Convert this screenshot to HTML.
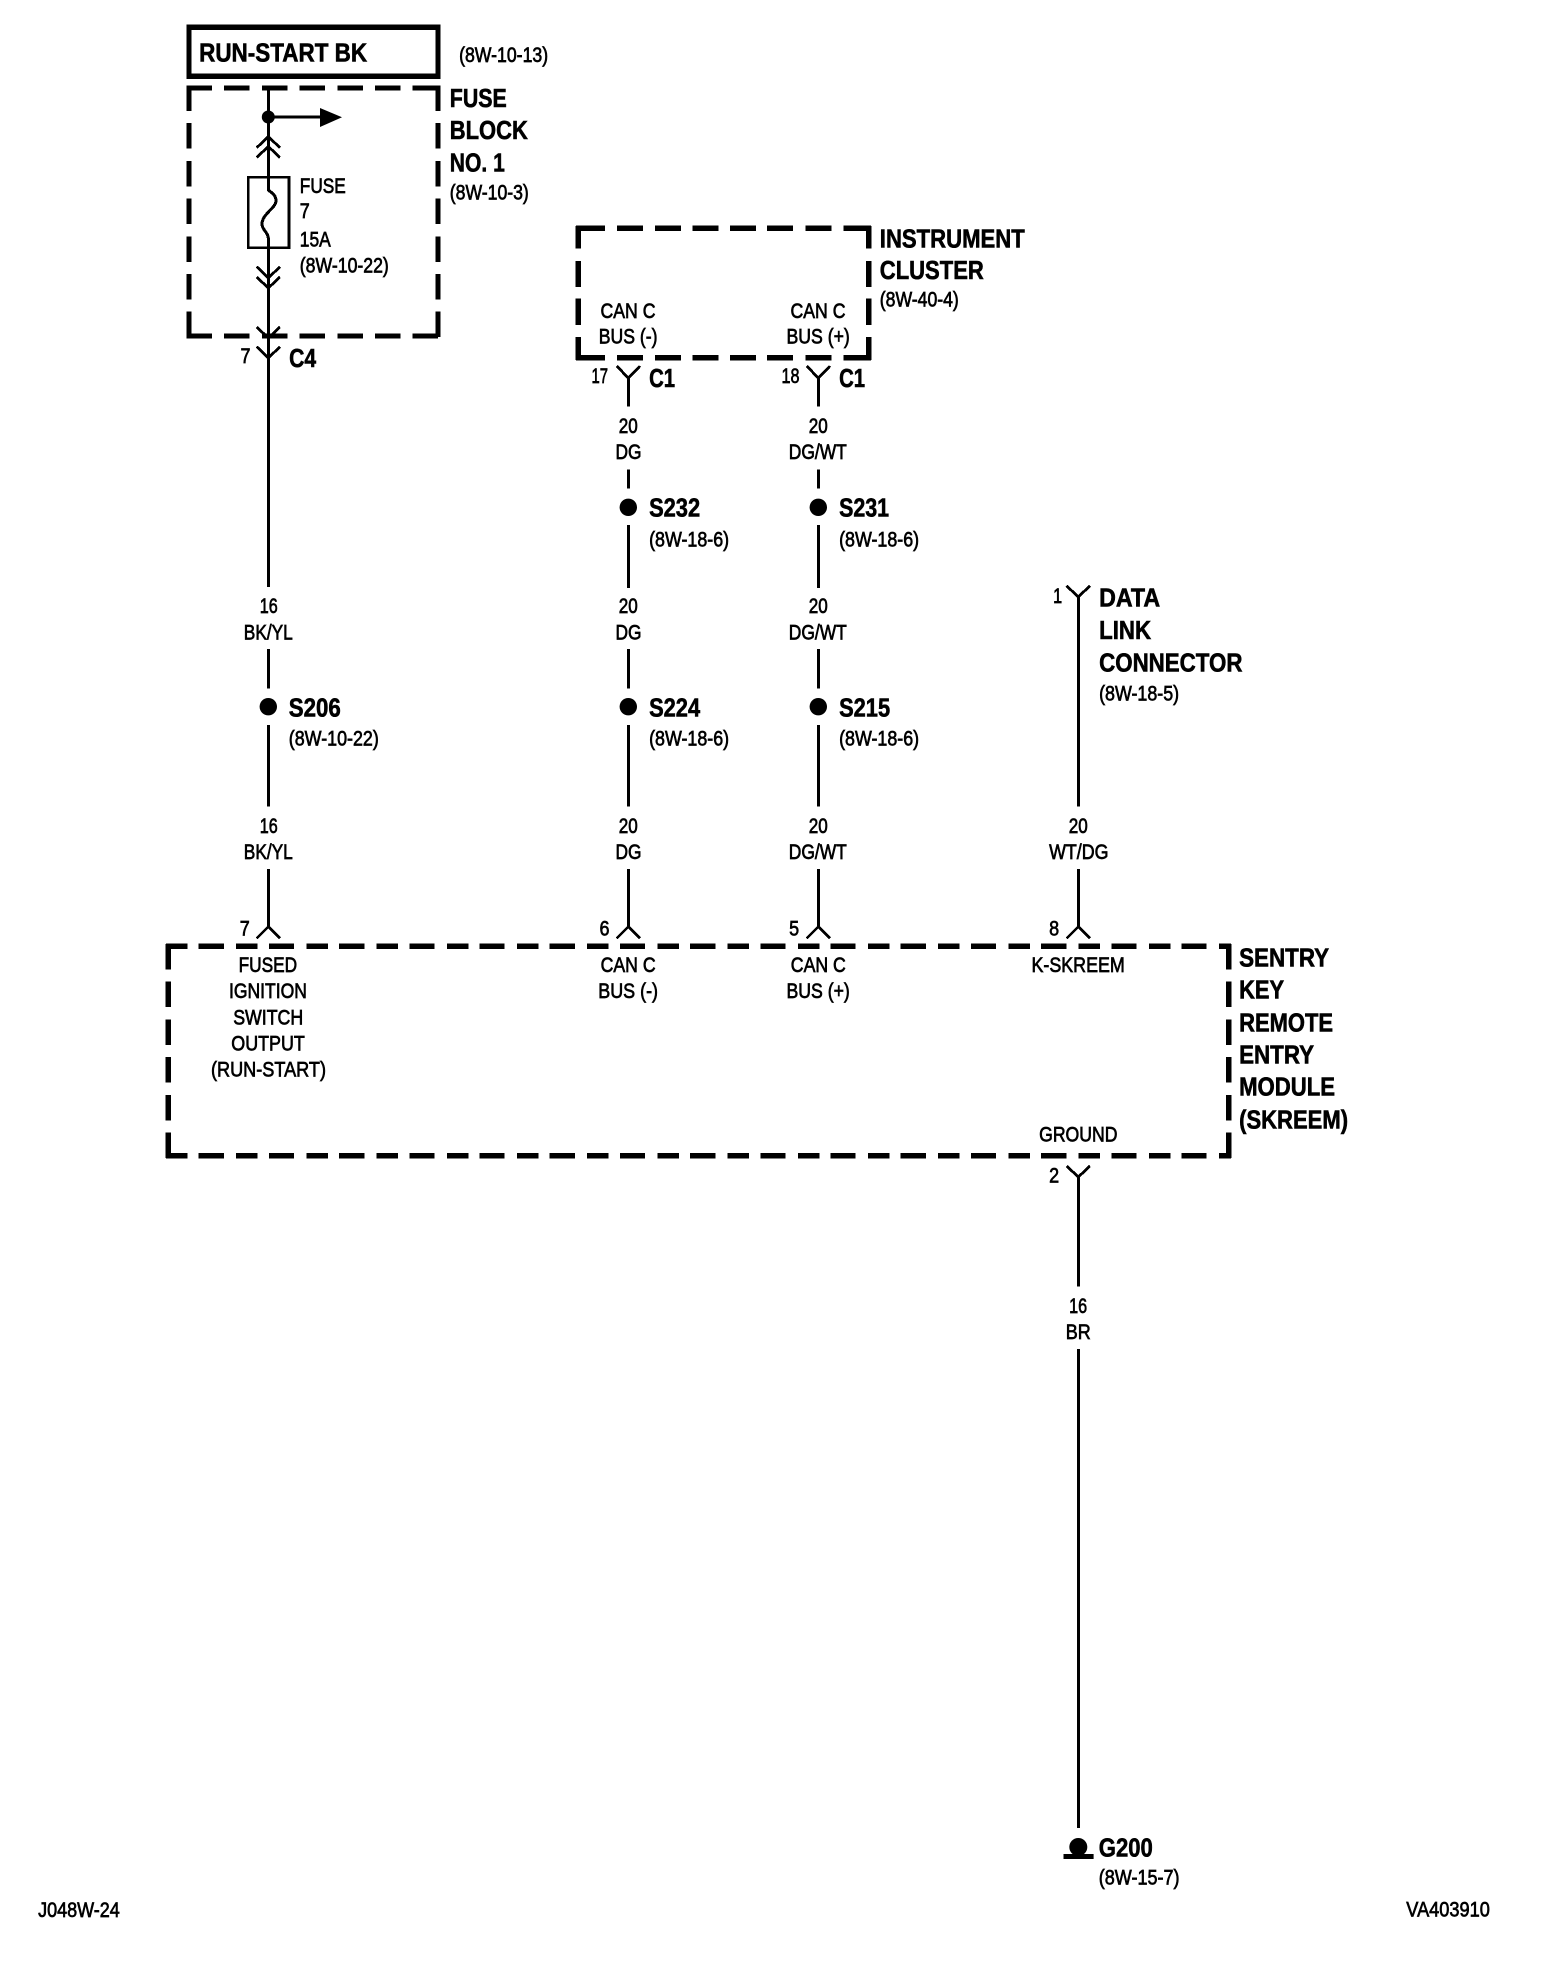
<!DOCTYPE html>
<html><head><meta charset="utf-8"><title>Wiring diagram</title>
<style>
html,body{margin:0;padding:0;background:#fff}
svg{display:block}
text{font-family:"Liberation Sans",Arial,sans-serif;fill:#000;transform:translate(-.2px,-.4px)}
.b{font-size:26px;font-weight:bold;stroke:#000;stroke-width:.6px}
.r{font-size:21px;stroke:#000;stroke-width:.7px}
.w{stroke:#000;stroke-width:3;fill:none;shape-rendering:crispEdges}
.c{stroke:#000;stroke-width:2.8;fill:none;shape-rendering:crispEdges}
.d{stroke:#000;stroke-width:5.2;fill:none;shape-rendering:crispEdges}
</style></head><body>
<svg xmlns="http://www.w3.org/2000/svg" width="1568" height="1982" viewBox="0 0 1568 1982">
<rect width="1568" height="1982" fill="#fff"/>

<!-- top box -->
<rect x="189" y="27.3" width="249" height="49" fill="none" stroke="#000" stroke-width="5.2" shape-rendering="crispEdges"/>
<text class="b" x="199.3" y="61.7" textLength="168" lengthAdjust="spacingAndGlyphs">RUN-START BK</text>
<text class="r" x="459.3" y="62.5" textLength="89" lengthAdjust="spacingAndGlyphs">(8W-10-13)</text>

<!-- fuse block dashed -->
<path class="d" stroke-dasharray="25.5 12.2" d="M186.5 88H440.5"/>
<path class="d" stroke-dasharray="25.5 12.2" d="M186.5 336H440.5"/>
<path class="d" stroke-dasharray="25.5 12.2" d="M189 85.5V338.5"/>
<path class="d" stroke-dasharray="25.5 12.2" d="M438 85.5V338.5"/>
<!-- fuse internals -->
<path class="w" d="M268.3 88V177M268.3 247V587"/>
<path class="w" d="M268.3 117H322"/>
<circle cx="268.3" cy="117" r="6.5"/>
<polygon points="320,108 342,117.3 320,127"/>
<path class="c" d="M256.7 147.7L268.3 136.7L280 147.7M256.7 157.5L268.3 146.5L280 157.5"/>
<rect x="248.3" y="177.3" width="40.7" height="70.4" fill="none" stroke="#000" stroke-width="2.8" shape-rendering="crispEdges"/>
<path class="w" d="M268.3 177V190C272 193 276 195 276 201C276 208 262 214 262 224C262 230 268 232 268.3 238V247"/>
<path class="c" d="M256.7 266.7L268.3 278L280 266.7M256.7 277L268.3 288L280 277"/>
<path class="c" d="M256.7 327L268.3 338L280 327"/>
<path class="c" d="M256.7 346.7L268.3 358L280 346.7"/>
<text class="b" x="450" y="107.3" textLength="57" lengthAdjust="spacingAndGlyphs">FUSE</text>
<text class="b" x="450" y="139.3" textLength="78" lengthAdjust="spacingAndGlyphs">BLOCK</text>
<text class="b" x="450" y="172" textLength="55" lengthAdjust="spacingAndGlyphs">NO. 1</text>
<text class="r" x="450" y="200" textLength="79" lengthAdjust="spacingAndGlyphs">(8W-10-3)</text>
<text class="r" x="300" y="193.3" textLength="46" lengthAdjust="spacingAndGlyphs">FUSE</text>
<text class="r" x="300" y="218.3" textLength="10" lengthAdjust="spacingAndGlyphs">7</text>
<text class="r" x="300" y="246.7" textLength="31" lengthAdjust="spacingAndGlyphs">15A</text>
<text class="r" x="300" y="272.7" textLength="89" lengthAdjust="spacingAndGlyphs">(8W-10-22)</text>
<text class="r" x="240.7" y="363.3" textLength="10" lengthAdjust="spacingAndGlyphs">7</text>
<text class="b" x="289.3" y="367.3" textLength="27" lengthAdjust="spacingAndGlyphs">C4</text>

<!-- instrument cluster -->
<path class="d" stroke-dasharray="29 12 26 12 26 11.5 26 11.5 26 11 26 12.5 26 12 28" d="M576 228.3H871"/>
<path class="d" stroke-dasharray="29 12 26 12 26 11.5 26 11.5 26 11 26 12.5 26 12 28" d="M576 357.7H871"/>
<path class="d" stroke-dasharray="22.5 12.3 26 11.7 26.7 11.7 23.3" d="M578.3 226V360"/>
<path class="d" stroke-dasharray="22.5 12.3 26 11.7 26.7 11.7 23.3" d="M868.7 226V360"/>
<text class="b" x="880" y="247.7" textLength="145" lengthAdjust="spacingAndGlyphs">INSTRUMENT</text>
<text class="b" x="880" y="279.3" textLength="104" lengthAdjust="spacingAndGlyphs">CLUSTER</text>
<text class="r" x="880" y="307" textLength="79" lengthAdjust="spacingAndGlyphs">(8W-40-4)</text>
<text class="r" x="600.7" y="318.3" textLength="55" lengthAdjust="spacingAndGlyphs">CAN C</text>
<text class="r" x="599" y="344" textLength="58.7" lengthAdjust="spacingAndGlyphs">BUS (-)</text>
<text class="r" x="790.7" y="318.3" textLength="55" lengthAdjust="spacingAndGlyphs">CAN C</text>
<text class="r" x="786.7" y="344" textLength="63.3" lengthAdjust="spacingAndGlyphs">BUS (+)</text>
<text class="r" x="591.7" y="383.3" textLength="16.5" lengthAdjust="spacingAndGlyphs">17</text>
<text class="r" x="781.7" y="383.3" textLength="18" lengthAdjust="spacingAndGlyphs">18</text>
<text class="b" x="649.3" y="387.3" textLength="26" lengthAdjust="spacingAndGlyphs">C1</text>
<text class="b" x="839.3" y="387.3" textLength="26" lengthAdjust="spacingAndGlyphs">C1</text>
<path class="c" d="M616.7 366L628.3 378L640 366M806.7 366L818.3 378L830 366"/>
<path class="w" d="M628.3 377V406.7M818.3 377V406.7"/>

<!-- column wires -->
<path class="w" d="M628.3 469.3V488.3M818.3 469.3V488.3"/>
<circle cx="628.3" cy="507.3" r="8.7"/><circle cx="818.3" cy="507.3" r="8.7"/>
<path class="w" d="M628.3 525V588M818.3 525V588"/>
<path class="w" d="M268.3 649V688.3M628.3 649V688.3M818.3 649V688.3"/>
<circle cx="268.3" cy="706.7" r="8.7"/><circle cx="628.3" cy="706.7" r="8.7"/><circle cx="818.3" cy="706.7" r="8.7"/>
<path class="w" d="M268.3 725V806.7M628.3 725V806.7M818.3 725V806.7"/>
<path class="w" d="M268.3 869V927M628.3 869V927M818.3 869V927M1078.3 869V927"/>
<path class="w" d="M1078.3 596V806.7"/>
<path class="c" d="M1066.5 585.7L1078.3 597L1090 585.7"/>
<path class="c" d="M256.7 938.3L268.3 926.7L280 938.3M616.7 938.3L628.3 926.7L640 938.3M806.7 938.3L818.3 926.7L830 938.3M1066.7 938.3L1078.3 926.7L1090 938.3"/>

<text class="r" x="619" y="433.3" textLength="19" lengthAdjust="spacingAndGlyphs">20</text>
<text class="r" x="615.7" y="459.3" textLength="26" lengthAdjust="spacingAndGlyphs">DG</text>
<text class="r" x="809" y="433.3" textLength="19" lengthAdjust="spacingAndGlyphs">20</text>
<text class="r" x="789" y="459.3" textLength="58" lengthAdjust="spacingAndGlyphs">DG/WT</text>
<text class="b" x="649.3" y="516.7" textLength="51" lengthAdjust="spacingAndGlyphs">S232</text>
<text class="b" x="839.3" y="516.7" textLength="50" lengthAdjust="spacingAndGlyphs">S231</text>
<text class="r" x="649.3" y="546.7" textLength="80" lengthAdjust="spacingAndGlyphs">(8W-18-6)</text>
<text class="r" x="839.3" y="546.7" textLength="80" lengthAdjust="spacingAndGlyphs">(8W-18-6)</text>

<text class="r" x="260" y="613.3" textLength="18" lengthAdjust="spacingAndGlyphs">16</text>
<text class="r" x="244" y="640" textLength="49" lengthAdjust="spacingAndGlyphs">BK/YL</text>
<text class="r" x="619" y="613.3" textLength="19" lengthAdjust="spacingAndGlyphs">20</text>
<text class="r" x="615.7" y="640" textLength="26" lengthAdjust="spacingAndGlyphs">DG</text>
<text class="r" x="809" y="613.3" textLength="19" lengthAdjust="spacingAndGlyphs">20</text>
<text class="r" x="789" y="640" textLength="58" lengthAdjust="spacingAndGlyphs">DG/WT</text>

<text class="b" x="289" y="716.7" textLength="52" lengthAdjust="spacingAndGlyphs">S206</text>
<text class="b" x="649.3" y="716.7" textLength="51" lengthAdjust="spacingAndGlyphs">S224</text>
<text class="b" x="839.3" y="716.7" textLength="51" lengthAdjust="spacingAndGlyphs">S215</text>
<text class="r" x="289" y="746" textLength="90" lengthAdjust="spacingAndGlyphs">(8W-10-22)</text>
<text class="r" x="649.3" y="746" textLength="80" lengthAdjust="spacingAndGlyphs">(8W-18-6)</text>
<text class="r" x="839.3" y="746" textLength="80" lengthAdjust="spacingAndGlyphs">(8W-18-6)</text>

<text class="r" x="260" y="833.3" textLength="18" lengthAdjust="spacingAndGlyphs">16</text>
<text class="r" x="244" y="859.3" textLength="49" lengthAdjust="spacingAndGlyphs">BK/YL</text>
<text class="r" x="619" y="833.3" textLength="19" lengthAdjust="spacingAndGlyphs">20</text>
<text class="r" x="615.7" y="859.3" textLength="26" lengthAdjust="spacingAndGlyphs">DG</text>
<text class="r" x="809" y="833.3" textLength="19" lengthAdjust="spacingAndGlyphs">20</text>
<text class="r" x="789" y="859.3" textLength="58" lengthAdjust="spacingAndGlyphs">DG/WT</text>
<text class="r" x="1069" y="833.3" textLength="19" lengthAdjust="spacingAndGlyphs">20</text>
<text class="r" x="1049.3" y="859.3" textLength="59.4" lengthAdjust="spacingAndGlyphs">WT/DG</text>

<!-- DLC -->
<text class="r" x="1053.3" y="603.3" textLength="9" lengthAdjust="spacingAndGlyphs">1</text>
<text class="b" x="1099.3" y="606.7" textLength="61" lengthAdjust="spacingAndGlyphs">DATA</text>
<text class="b" x="1099.3" y="639.3" textLength="52" lengthAdjust="spacingAndGlyphs">LINK</text>
<text class="b" x="1099.3" y="671.7" textLength="143.4" lengthAdjust="spacingAndGlyphs">CONNECTOR</text>
<text class="r" x="1099.3" y="701" textLength="80" lengthAdjust="spacingAndGlyphs">(8W-18-5)</text>

<!-- SKREEM -->
<path class="d" stroke-dasharray="21.5 11.2 25.2 12.3" d="M166 946.3H1231"/>
<path class="d" stroke-dasharray="21.5 11.2 25.2 12.3" d="M166 1155.7H1231"/>
<path class="d" stroke-dasharray="25.5 12.2" d="M168.3 944V1158"/>
<path class="d" stroke-dasharray="25.5 12.2" d="M1228.7 944V1158"/>

<text class="r" x="240" y="936" textLength="10" lengthAdjust="spacingAndGlyphs">7</text>
<text class="r" x="599.7" y="936" textLength="10" lengthAdjust="spacingAndGlyphs">6</text>
<text class="r" x="789.3" y="936" textLength="10" lengthAdjust="spacingAndGlyphs">5</text>
<text class="r" x="1049.3" y="936" textLength="10" lengthAdjust="spacingAndGlyphs">8</text>
<text class="r" x="238.8" y="972.3" textLength="58.5" lengthAdjust="spacingAndGlyphs">FUSED</text>
<text class="r" x="229.2" y="998.3" textLength="78" lengthAdjust="spacingAndGlyphs">IGNITION</text>
<text class="r" x="233.4" y="1025" textLength="70" lengthAdjust="spacingAndGlyphs">SWITCH</text>
<text class="r" x="231.5" y="1050.7" textLength="73.5" lengthAdjust="spacingAndGlyphs">OUTPUT</text>
<text class="r" x="211.2" y="1076.7" textLength="115" lengthAdjust="spacingAndGlyphs">(RUN-START)</text>
<text class="r" x="600.8" y="972.3" textLength="55" lengthAdjust="spacingAndGlyphs">CAN C</text>
<text class="r" x="598.5" y="998.3" textLength="59.7" lengthAdjust="spacingAndGlyphs">BUS (-)</text>
<text class="r" x="791" y="972.3" textLength="55" lengthAdjust="spacingAndGlyphs">CAN C</text>
<text class="r" x="786.7" y="998.3" textLength="63.3" lengthAdjust="spacingAndGlyphs">BUS (+)</text>
<text class="r" x="1031.7" y="972.3" textLength="93.3" lengthAdjust="spacingAndGlyphs">K-SKREEM</text>
<text class="r" x="1039.3" y="1141.7" textLength="78.4" lengthAdjust="spacingAndGlyphs">GROUND</text>
<text class="b" x="1239.3" y="966.7" textLength="90" lengthAdjust="spacingAndGlyphs">SENTRY</text>
<text class="b" x="1239.3" y="999" textLength="45" lengthAdjust="spacingAndGlyphs">KEY</text>
<text class="b" x="1239.3" y="1031.7" textLength="94" lengthAdjust="spacingAndGlyphs">REMOTE</text>
<text class="b" x="1239.3" y="1064" textLength="75" lengthAdjust="spacingAndGlyphs">ENTRY</text>
<text class="b" x="1239.3" y="1096" textLength="96" lengthAdjust="spacingAndGlyphs">MODULE</text>
<text class="b" x="1239.3" y="1129" textLength="109" lengthAdjust="spacingAndGlyphs">(SKREEM)</text>

<!-- ground run -->
<text class="r" x="1049.3" y="1182.7" textLength="10" lengthAdjust="spacingAndGlyphs">2</text>
<path class="c" d="M1066.7 1166L1078.3 1177L1090 1166"/>
<path class="w" d="M1078.3 1176V1286.7M1078.3 1349V1828"/>
<text class="r" x="1069.3" y="1313.3" textLength="18" lengthAdjust="spacingAndGlyphs">16</text>
<text class="r" x="1066" y="1339.3" textLength="25" lengthAdjust="spacingAndGlyphs">BR</text>
<rect x="1063.5" y="1854" width="30.1" height="5"/>
<circle cx="1078.3" cy="1847" r="9"/>
<text class="b" x="1099" y="1856.7" textLength="54" lengthAdjust="spacingAndGlyphs">G200</text>
<text class="r" x="1099" y="1885" textLength="80.7" lengthAdjust="spacingAndGlyphs">(8W-15-7)</text>
<text class="r" x="1406.5" y="1916.7" textLength="83.5" lengthAdjust="spacingAndGlyphs">VA403910</text>
<text class="r" x="38.3" y="1917.3" textLength="81.7" lengthAdjust="spacingAndGlyphs">J048W-24</text>
</svg>
</body></html>
